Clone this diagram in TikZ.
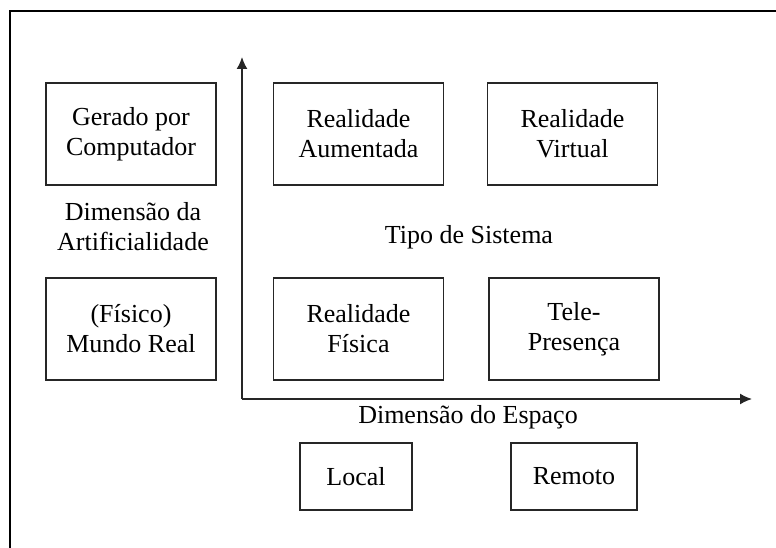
\documentclass[tikz,border=0pt]{standalone}
\usepackage{fontspec}
\setmainfont{Liberation Serif}
\usepackage{tikz}
\usetikzlibrary{arrows.meta}
\usetikzlibrary{positioning}

\begin{document}
\begin{tikzpicture}
	[
	x=1pt, y=-1pt,
	> = {Latex[length=12pt,width=11pt]},
	every node/.style={font=\fontsize{26}{30}\selectfont, align=center},
	box/.style = {draw=black!85, line width=1.7pt, minimum width=170pt, minimum height=102pt, inner sep=0pt},
	smallbox/.style = {box, minimum height=67pt},
	axis/.style = {->, line width=1.5pt, draw=black!85, fill=black}
	]
	\useasboundingbox (0,0) rectangle (776,548);
	\draw[line width=2.5pt] (776,11) -| (10,548);

	\coordinate (o) at (242,399);
	\coordinate (ytip) at (242,57);
	\coordinate (xtip) at (752,399);

	\draw[axis] (o) -- (ytip);
	\draw[axis] (o) -- (xtip);

	\node[box] (gerado)    at (131,134)   {Gerado por\\Computador};
	\node[box] (aumentada) at (358.5,134) {Realidade\\Aumentada};
	\node[box] (virtual)   at (572.5,134) {Realidade\\Virtual};
	\node[box] (mundo)     at (131,329)   {(Físico)\\Mundo Real};
	\node[box] (fisica)    at (358.5,329) {Realidade\\Física};
	\node[box] (tele)      at (574,329)   {Tele-\\Presença};

	\node[smallbox, minimum width=112pt] (local)  at (356,476.5) {Local};
	\node[smallbox, minimum width=126pt] (remoto) at (574,476.5) {Remoto};

	\node (artif) at (133,227) {Dimensão da\\Artificialidade};
	\node[anchor=base] (tipo)   at (469,243) {Tipo de Sistema};
	\node[anchor=base] (espaco) at (468,423) {Dimensão do Espaço};

\end{tikzpicture}
\end{document}
